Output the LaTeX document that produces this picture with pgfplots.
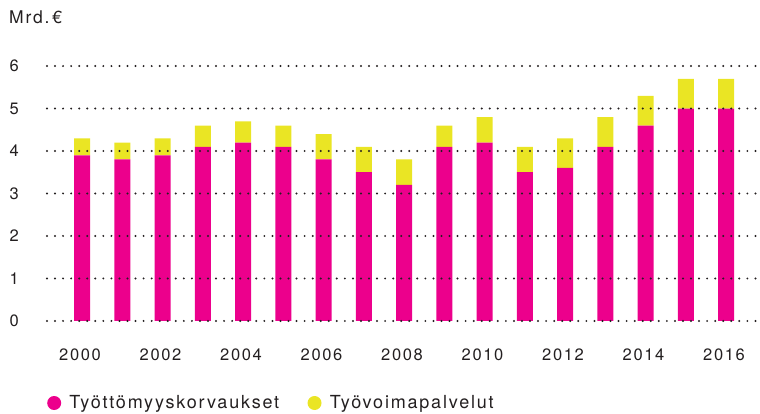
\documentclass[border=0pt]{standalone}
\usepackage{pgfplots}
\pgfplotsset{compat=1.18}
\usepackage{fontspec}
\setmainfont[LetterSpace=10]{TeX Gyre Heros}
\definecolor{pinkc}{HTML}{EC008C}
\definecolor{yelc}{HTML}{EAE524}
\definecolor{txt}{HTML}{231F20}
\begin{document}
\begin{tikzpicture}[x=1pt,y=1pt]
\useasboundingbox (0,0) rectangle (760,414);
\begin{axis}[
  at={(47pt,93pt)}, anchor=south west,
  scale only axis, width=711pt, height=255pt,
  xmin=1999.13, xmax=2016.795, ymin=0, ymax=6,
  ybar stacked, bar width=16pt,
  axis line style={draw=none}, axis on top,
  ymajorgrids, xmajorgrids=false,
  grid style={draw=txt, line width=2.2pt, line cap=round, dash pattern=on 0pt off 8.05pt},
  ytick={0,1,...,6}, xtick={2000,2002,...,2016},
  major tick length=0pt, tick style={draw=none},
  /pgf/number format/assume math mode=true,
  /pgf/number format/1000 sep={},
  ticklabel style={font=\fontsize{16.5}{18}\selectfont, text=txt, inner sep=0pt},
  yticklabel style={anchor=east, xshift=-28pt},
  xticklabel style={anchor=north, yshift=-28pt, xshift=-2pt},
  legend style={at={(0,-0.3216)}, anchor=west, draw=none, fill=none,
    font=\fontsize{18}{20}\selectfont, text=txt, inner sep=0pt,
    nodes={inner sep=0pt},
    legend columns=2,
    /tikz/every odd column/.append style={column sep=8.3pt},
    /tikz/every even column/.append style={column sep=28.3pt}},
  legend cell align=left,
]
\addplot[fill=pinkc, draw=none,
  legend image code/.code={\fill[pinkc, draw=none] (0pt,0pt) circle (7pt);}]
  coordinates {(2000,3.9)(2001,3.8)(2002,3.9)(2003,4.1)(2004,4.2)(2005,4.1)(2006,3.8)(2007,3.5)(2008,3.2)(2009,4.1)(2010,4.2)(2011,3.5)(2012,3.6)(2013,4.1)(2014,4.6)(2015,5.0)(2016,5.0)};
\addlegendentry{Työttömyyskorvaukset}
\addplot[fill=yelc, draw=none,
  legend image code/.code={\fill[yelc, draw=none] (0pt,0pt) circle (7pt);}]
  coordinates {(2000,0.4)(2001,0.4)(2002,0.4)(2003,0.5)(2004,0.5)(2005,0.5)(2006,0.6)(2007,0.6)(2008,0.6)(2009,0.5)(2010,0.6)(2011,0.6)(2012,0.7)(2013,0.7)(2014,0.7)(2015,0.7)(2016,0.7)};
\addlegendentry{Työvoimapalvelut}
\end{axis}
\node[anchor=west, inner sep=0pt, text=txt, font=\fontsize{17.5}{20}\selectfont] at (9,397) {Mrd.\,€};
\end{tikzpicture}
\end{document}
